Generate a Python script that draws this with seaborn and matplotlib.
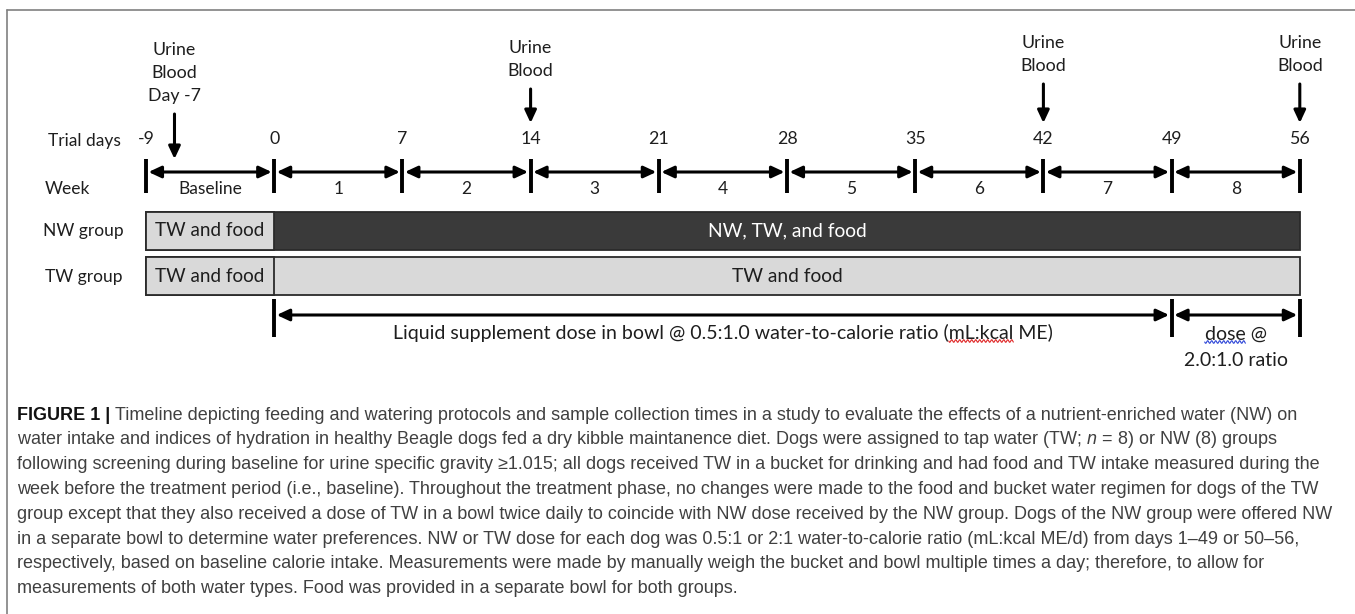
import matplotlib
matplotlib.use('Agg')
import matplotlib.pyplot as plt
from matplotlib.lines import Line2D
import numpy as np
import seaborn as sns

sns.set_theme(style='white')
plt.rcParams['font.family'] = ['Lato', 'DejaVu Sans']
plt.rcParams['mathtext.fontset'] = 'custom'
plt.rcParams['mathtext.it'] = 'Liberation Sans:italic'
plt.rcParams['mathtext.rm'] = 'Liberation Sans'

# =========================
# DATA
# =========================
trial_days = [-9, 0, 7, 14, 21, 28, 35, 42, 49, 56]
week_labels = ['Baseline', '1', '2', '3', '4', '5', '6', '7', '8']
sample_days = [-7, 14, 42, 56]
sample_labels = [['Urine', 'Blood', 'Day -7'], ['Urine', 'Blood'], ['Urine', 'Blood'], ['Urine', 'Blood']]
groups = ['NW group', 'TW group']
baseline_text = 'TW and food'
treatment_text = ['NW, TW, and food', 'TW and food']
treatment_colors = ['#3a3a3a', '#d9d9d9']
baseline_color = '#d9d9d9'
dose_days = [0, 49, 56]
dose_label_main = 'Liquid supplement dose in bowl @ 0.5:1.0 water-to-calorie ratio (mL:kcal ME)'
dose_label_end = ['dose @', '2.0:1.0 ratio']

caption_head = 'FIGURE 1 | '
caption_lines = [
    'Timeline depicting feeding and watering protocols and sample collection times in a study to evaluate the effects of a nutrient-enriched water (NW) on',
    'water intake and indices of hydration in healthy Beagle dogs fed a dry kibble maintanence diet. Dogs were assigned to tap water (TW; $n$ = 8) or NW (8) groups',
    'following screening during baseline for urine specific gravity \u22651.015; all dogs received TW in a bucket for drinking and had food and TW intake measured during the',
    'week before the treatment period (i.e., baseline). Throughout the treatment phase, no changes were made to the food and bucket water regimen for dogs of the TW',
    'group except that they also received a dose of TW in a bowl twice daily to coincide with NW dose received by the NW group. Dogs of the NW group were offered NW',
    'in a separate bowl to determine water preferences. NW or TW dose for each dog was 0.5:1 or 2:1 water-to-calorie ratio (mL:kcal ME/d) from days 1\u201349 or 50\u201356,',
    'respectively, based on baseline calorie intake. Measurements were made by manually weigh the bucket and bowl multiple times a day; therefore, to allow for',
    'measurements of both water types. Food was provided in a separate bowl for both groups.',
]

# =========================
# LAYOUT
# =========================
W, H = 1355, 614
X0, STEP = 146, 128.2          # pixel of first tick, pixels per week
TXT = '#1e1e1e'
FS = 12.5


def xi(day):
    return np.interp(day, trial_days, np.arange(len(trial_days)))


def fx(px):
    return px / W


def fy(py):
    return 1 - py / H


fig = plt.figure(figsize=(W / 100, H / 100), dpi=100)
renderer = fig.canvas.get_renderer()
ax = fig.add_axes([0, 0, 1, 1])
xlim = (-X0 / STEP, (W - X0) / STEP)
ax.set_xlim(*xlim)
ax.set_ylim(H, 0)
ax.axis('off')


def text_width(s, **kw):
    t = fig.text(0, 0, s, **kw)
    w = t.get_window_extent(renderer).width
    t.remove()
    return w


def squiggle(x_a, x_b, py, color):
    xs = np.linspace(x_a, x_b, int((x_b - x_a) * 3) + 2)
    ys = py + 1.3 * np.sin(2 * np.pi * (xs - x_a) / 4.0)
    fig.add_artist(Line2D(fx(xs), fy(ys), color=color, lw=0.8))


# frame (top and left rules)
fig.add_artist(Line2D([fx(7), 1], [fy(10), fy(10)], color='#808080', lw=1.2))
fig.add_artist(Line2D([fx(7), fx(7)], [fy(10), 0], color='#808080', lw=1.2))

arrow_kw = dict(arrowstyle='<|-|>,head_length=0.75,head_width=0.35', lw=2.2,
                color='black', shrinkA=1.8, shrinkB=1.8, mutation_scale=10)

# week timeline
idx = xi(trial_days)
ax.vlines(idx, 159, 193, color='black', lw=2.8)
for i in range(len(trial_days) - 1):
    ax.annotate('', xy=(idx[i + 1], 172), xytext=(idx[i], 172), arrowprops=arrow_kw)
    ax.text((idx[i] + idx[i + 1]) / 2, 189, week_labels[i], ha='center', va='center',
            fontsize=FS, color=TXT)
for d, x in zip(trial_days, idx):
    ax.text(x, 139, str(d), ha='center', va='center', fontsize=FS + 0.3, color=TXT)

# sample collection arrows
sample_tops = [50, 48, 43, 43]
for d, lines, top in zip(sample_days, sample_labels, sample_tops):
    x = xi(d)
    for k, s in enumerate(lines):
        ax.text(x, top + 23 * k, s, ha='center', va='center', fontsize=FS + 0.3, color=TXT)
    y0 = top + 23 * (len(lines) - 1) + 18
    y1 = 123 if d in trial_days else 159
    ax.annotate('', xy=(x, y1), xytext=(x, y0),
                arrowprops=dict(arrowstyle='-|>,head_length=0.75,head_width=0.35', lw=2.2,
                                color='black', shrinkA=0, shrinkB=0, mutation_scale=10))

# row labels
for txt, py, px in [('Trial days', 141, 48), ('Week', 189, 45), ('NW group', 231, 43), ('TW group', 277, 45)]:
    fig.text(fx(px), fy(py), txt, ha='left', va='center', fontsize=FS, color=TXT)

# group bars (seaborn, on their own axes aligned with the timeline)
bax = fig.add_axes([0, fy(298.5), 1, 90 / H])
full_len = [xi(trial_days[-1]) - xi(trial_days[0])] * len(groups)
base_len = [xi(0) - xi(trial_days[0])] * len(groups)
sns.barplot(x=full_len, y=groups, hue=groups, palette=treatment_colors, orient='h',
            width=0.85, edgecolor='#2a2a2a', linewidth=1.3, legend=False, ax=bax)
sns.barplot(x=base_len, y=groups, color=baseline_color, saturation=1, orient='h',
            width=0.85, edgecolor='#2a2a2a', linewidth=1.3, ax=bax)
bax.set_xlim(*xlim)
bax.set_ylim(1.5, -0.5)
bax.axis('off')
mid_treat = (xi(0) + xi(trial_days[-1])) / 2
for i, g in enumerate(groups):
    bax.text(base_len[i] / 2, i, baseline_text, ha='center', va='center', fontsize=13.6, color=TXT)
    bax.text(mid_treat, i, treatment_text[i], ha='center', va='center', fontsize=13.8,
             color='white' if i == 0 else TXT)

# dose arrows
didx = xi(dose_days)
ax.vlines(didx, 299, 337, color='black', lw=2.8)
for i in range(len(dose_days) - 1):
    ax.annotate('', xy=(didx[i + 1], 315), xytext=(didx[i], 315), arrowprops=arrow_kw)
DFS = 14
mid_main = (didx[0] + didx[1]) / 2
ax.text(mid_main, 333, dose_label_main, ha='center', va='center', fontsize=DFS, color=TXT)
mid_end = (didx[1] + didx[2]) / 2
for k, s in enumerate(dose_label_end):
    ax.text(mid_end, 334 + 26 * k, s, ha='center', va='center', fontsize=DFS, color=TXT)

# spell-check squiggles under "mL:kcal" and "dose"
tw = text_width(dose_label_main, fontsize=DFS)
left_px = X0 + mid_main * STEP - tw / 2
pre = text_width(dose_label_main.split('mL:kcal')[0], fontsize=DFS)
squiggle(left_px + pre, left_px + pre + text_width('mL:kcal', fontsize=DFS), 341, '#e02a2a')
tw2 = text_width(dose_label_end[0], fontsize=DFS)
left2 = X0 + mid_end * STEP - tw2 / 2
squiggle(left2, left2 + text_width('dose', fontsize=DFS), 342, '#3048d8')

# caption
CAP = dict(fontsize=13.0, color='#404040', family=['Liberation Sans', 'DejaVu Sans'], va='center', ha='left')
cap_y0, cap_dy = 415, 24.8
head = fig.text(fx(17), fy(cap_y0), caption_head, weight='bold', **{**CAP, 'color': '#111111'})
bb = head.get_window_extent(renderer)
for k, line in enumerate(caption_lines):
    x = bb.x1 / W if k == 0 else fx(17)
    fig.text(x, fy(cap_y0 + k * cap_dy), line, **CAP)

fig.savefig('out.png', dpi=100)
